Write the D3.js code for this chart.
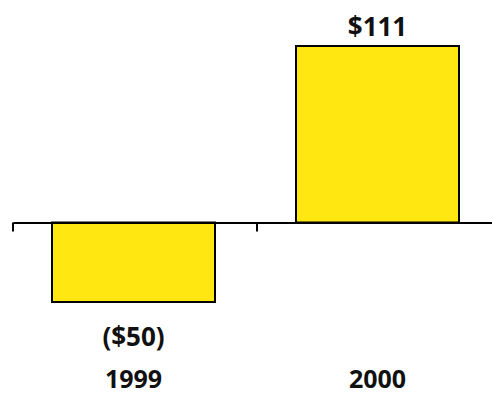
<!DOCTYPE html>
<html>
<head>
<meta charset="utf-8">
<script src="https://cdn.jsdelivr.net/npm/d3@7"></script>
<style>
  body { margin: 0; background: #fff; }
  text { font-family: "Open Sans", "Noto Sans", sans-serif; font-weight: bold; fill: #111; }
</style>
</head>
<body>
<script>
// chart data
var years = ["1999", "2000"]
var values = [-50, 111]
var valueLabels = ["($50)", "$111"]
var title = "(in millions)"

var W = 492, H = 395
var axisY = 222.5

var svg = d3.select("body")
    .append("svg")
        .attr("width", W)
        .attr("height", H)

// Set the ranges
var x = d3.scaleBand().domain(years).range([13, 501])
var y = d3.scaleLinear().domain([0, 111]).range([axisY, 46])

var bw = 163

// title (mostly cut off at the top, as in the source)
svg.append("text")
    .attr("x", 253)
    .attr("y", -3)
    .attr("text-anchor", "middle")
    .style("font-size", "17px")
    .text(title)

// bars
svg.selectAll("rect.bar")
    .data(values)
    .enter().append("rect")
      .attr("class", "bar")
      .attr("x", (d, i) => x(years[i]) + x.bandwidth() / 2 - bw / 2 - 1.5)
      .attr("y", d => y(Math.max(0, d)))
      .attr("width", bw)
      .attr("height", d => Math.abs(y(d) - y(0)))
      .attr("fill", "#ffe811")
      .attr("stroke", "#000")
      .attr("stroke-width", 2)

// X axis
var xAxis = d3.axisBottom(x).tickSizeInner(0).tickSizeOuter(0).tickFormat("")
var gx = svg.append("g")
    .attr("transform", "translate(0," + axisY + ")")
    .call(xAxis)
gx.select(".domain").attr("stroke", "#000").attr("stroke-width", 2)
gx.selectAll(".tick").remove()
// tick marks on category boundaries
gx.selectAll("line.sep")
    .data(years)
    .enter().append("line")
      .attr("class", "sep")
      .attr("x1", d => x(d)).attr("x2", d => x(d))
      .attr("y1", 0).attr("y2", 9)
      .attr("stroke", "#000")
      .attr("stroke-width", 2)

// value labels
svg.selectAll("text.val")
    .data(values)
    .enter().append("text")
      .attr("class", "val")
      .attr("x", (d, i) => x(years[i]) + x.bandwidth() / 2 - 1.5)
      .attr("y", d => d >= 0 ? y(d) - 10 : y(d) + 44)
      .attr("text-anchor", "middle")
      .style("font-size", "26px")
      .text((d, i) => valueLabels[i])

// category labels
svg.selectAll("text.cat")
    .data(years)
    .enter().append("text")
      .attr("class", "cat")
      .attr("x", d => x(d) + x.bandwidth() / 2 - 1.5)
      .attr("y", 388)
      .attr("text-anchor", "middle")
      .style("font-size", "25px")
      .text(d => d)
</script>
</body>
</html>
